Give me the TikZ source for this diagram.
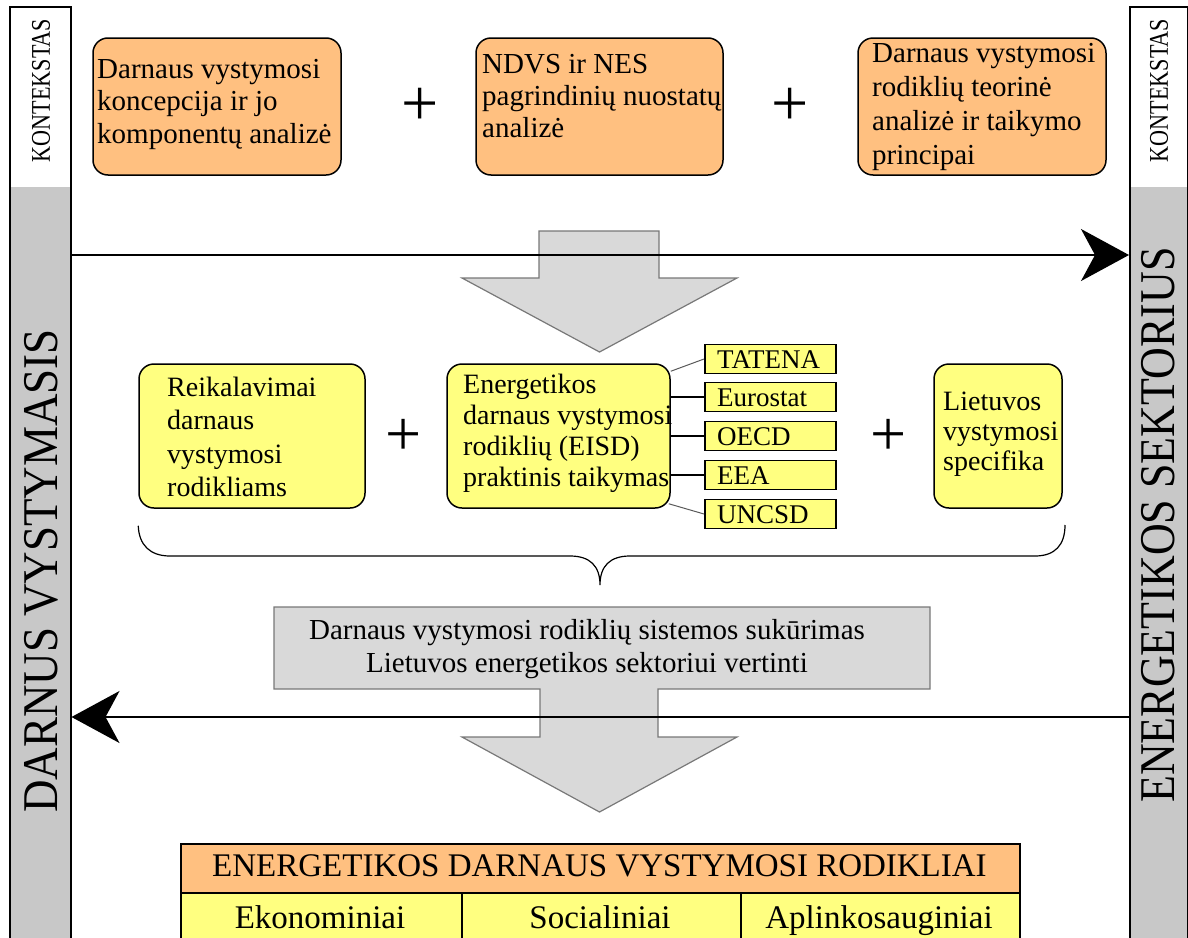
\documentclass[tikz,border=0pt]{standalone}
\usepackage{fontspec}
\usepackage{graphicx}
\setmainfont{Liberation Serif}
\usetikzlibrary{arrows.meta,calc}

\definecolor{boxorange}{RGB}{255,192,128}
\definecolor{boxyellow}{RGB}{255,255,128}
\definecolor{bargray}{RGB}{200,200,200}
\definecolor{arrowfill}{RGB}{217,217,217}
\definecolor{arrowedge}{RGB}{120,120,120}

\begin{document}
\begin{tikzpicture}[x=1pt,y=-1pt,
  rbox/.style={draw=black, line width=1.5pt, rounded corners=15pt, inner sep=0pt},
  obox/.style={rbox, fill=boxorange},
  ybox/.style={rbox, fill=boxyellow},
  tagbox/.style={draw=black, line width=1.5pt, fill=boxyellow, minimum width=131pt,
    minimum height=29pt, inner sep=0pt, anchor=west},
  tagtext/.style={inner sep=0pt, anchor=base west, font=\fontsize{27}{30}\selectfont},
  txt/.style={inner sep=0pt, align=left, anchor=north west},
  plus/.style={inner sep=0pt, font=\fontsize{66}{66}\selectfont},
  bar/.style={draw=black, line width=1.5pt, minimum width=61pt, minimum height=960pt,
    anchor=north west, inner sep=0pt},
  bigarrow/.style={line width=1.5pt, -{Stealth[length=48pt,width=52pt,inset=14pt]}},
  link/.style={line width=1.5pt},
  softlink/.style={line width=1pt, draw=black!65},
  graybox/.style={draw=arrowedge, line width=1.2pt, fill=arrowfill},
  cell/.style={draw=black, line width=1.5pt, anchor=north west, inner sep=0pt},
  celltext/.style={inner sep=0pt, anchor=base, font=\fontsize{33}{34}\selectfont},
  sidetext/.style={rotate=90, inner sep=0pt, font=\fontsize{50}{50}\selectfont},
  smallside/.style={rotate=90, inner sep=0pt, font=\fontsize{27}{27}\selectfont}
]
\useasboundingbox (0,0) rectangle (1188,937);
\clip (0,0) rectangle (1188,937);

% side bars: white context strip on top, grey below
\fill[bargray] (9,187) rectangle (70,960);
\fill[bargray] (1129,187) rectangle (1187,960);
\node[bar] (lbar) at (9,6) {};
\node[bar, minimum width=58pt] (rbar) at (1129,6) {};

\node[smallside] (lctx) at (41,90.5) {\scalebox{0.82}[1]{KONTEKSTAS}};
\node[smallside] (rctx) at (1159,90.5) {\scalebox{0.82}[1]{KONTEKSTAS}};
\node[sidetext] (dv) at (41.5,571) {\scalebox{0.9}[1]{DARNUS VYSTYMASIS}};
\node[sidetext] (es) at (1158.5,525) {\scalebox{0.88}[1]{ENERGETIKOS SEKTORIUS}};

% first stage: three analysis boxes
\node[obox, minimum width=248pt, minimum height=137pt] (b1) at (217,106.5) {};
\node[obox, minimum width=247pt, minimum height=137pt] (b2) at (599.5,106.5) {};
\node[obox, minimum width=248pt, minimum height=137pt] (b3) at (982,106.5) {};
\node[txt, font=\fontsize{29}{32.5}\selectfont] (t1) at (97,59)
  {Darnaus vystymosi\\koncepcija ir jo\\komponentų analizė};
\node[txt, font=\fontsize{29}{32}\selectfont] (t2) at (482,54)
  {NDVS ir NES\\pagrindinių nuostatų\\analizė};
\node[txt, font=\fontsize{29}{34}\selectfont] (t3) at (872,43)
  {Darnaus vystymosi\\rodiklių teorinė\\analizė ir taikymo\\principai};
\node[plus] (p1) at (420,107) {+};
\node[plus] (p2) at (790,107) {+};

% big grey arrow down
\draw[graybox] (539,231) -- (659,231) -- (659,278) -- (737,278) -- (599.5,352)
  -- (462,278) -- (539,278) -- cycle;

% second stage: requirements, EISD practice, Lithuanian specifics
\node[ybox, minimum width=226pt, minimum height=144pt] (bA) at (252,436) {};
\node[ybox, minimum width=223pt, minimum height=144pt] (bB) at (558.5,436) {};
\node[ybox, minimum width=128pt, minimum height=144pt] (bC) at (998,436) {};
\node[txt, font=\fontsize{28}{33.3}\selectfont] (tA) at (167,377)
  {Reikalavimai\\darnaus\\vystymosi\\rodikliams};
\node[txt, font=\fontsize{28}{31}\selectfont] (tB) at (463,374)
  {Energetikos\\darnaus vystymosi\\rodiklių (EISD)\\praktinis taikymas};
\node[txt, font=\fontsize{28}{30}\selectfont] (tC) at (943,392)
  {Lietuvos\\vystymosi\\specifika};
\node[plus, font=\fontsize{64}{64}\selectfont] (p3) at (404,437) {+};
\node[plus, font=\fontsize{64}{64}\selectfont] (p4) at (889,437) {+};

% organisations providing indicator sets
\node[tagbox] (g1) at (704,359) {};
\node[tagbox] (g2) at (704,397) {};
\node[tagbox] (g3) at (704,436) {};
\node[tagbox] (g4) at (704,475) {};
\node[tagbox] (g5) at (704,514) {};
\node[tagtext] (g1x) at ($(g1.west)+(13,9)$) {TATENA};
\node[tagtext] (g2x) at ($(g2.west)+(13,9)$) {Eurostat};
\node[tagtext] (g3x) at ($(g3.west)+(13,9)$) {OECD};
\node[tagtext] (g4x) at ($(g4.west)+(13,9)$) {EEA};
\node[tagtext] (g5x) at ($(g5.west)+(13,9)$) {UNCSD};
\draw[softlink] ($(bB.north east)+(0,8)$) -- (g1.west);
\draw[link] (bB.east |- g2.west) -- (g2.west);
\draw[link] (bB.east |- g3.west) -- (g3.west);
\draw[link] (bB.east |- g4.west) -- (g4.west);
\draw[softlink] ($(bB.south east)+(-2,-5)$) -- (g5.west);

% brace gathering the second stage
\draw[line width=1.2pt] (bA.south west) ++(0,17) coordinate (brL)
  .. controls (139,545) and (150,556) .. (170,556) -- (570,556)
  .. controls (590,556) and (600,566) .. (600,585)
  .. controls (600,566) and (610,556) .. (630,556) -- (1035,556)
  .. controls (1055,556) and (1065,545) .. (1065,525);

% result box with arrow down
\draw[graybox] (274,607) -- (930,607) -- (930,689) -- (658,689) -- (658,737)
  -- (737,737) -- (599.5,812) -- (462,737) -- (540,737) -- (540,689)
  -- (274,689) -- cycle;
\node[inner sep=0pt, align=center, anchor=north, font=\fontsize{29}{33.5}\selectfont] (res)
  at (587,619) {Darnaus vystymosi rodiklių sistemos sukūrimas\\Lietuvos energetikos sektoriui vertinti};

% feedback arrows between the two side bars
\coordinate (yTop) at (0,255);
\coordinate (yBot) at (0,717);
\draw[bigarrow] (lbar.east |- yTop) -- (rbar.west |- yTop);
\draw[bigarrow] (rbar.west |- yBot) -- (lbar.east |- yBot);

% indicator table
\node[cell, fill=boxorange, minimum width=839pt, minimum height=49pt] (th) at (180,843) {};
\node[cell, fill=boxyellow, minimum width=281pt, minimum height=70pt] (c1) at (180,892) {};
\node[cell, fill=boxyellow, minimum width=279pt, minimum height=70pt] (c2) at (461,892) {};
\node[cell, fill=boxyellow, minimum width=279pt, minimum height=70pt] (c3) at (740,892) {};
\node[celltext] (thx) at (599.5,876) {ENERGETIKOS DARNAUS VYSTYMOSI RODIKLIAI};
\node[celltext] (c1x) at (320,928) {Ekonominiai};
\node[celltext] (c2x) at (600,928) {Socialiniai};
\node[celltext] (c3x) at (879,928) {Aplinkosauginiai};
\end{tikzpicture}
\end{document}
